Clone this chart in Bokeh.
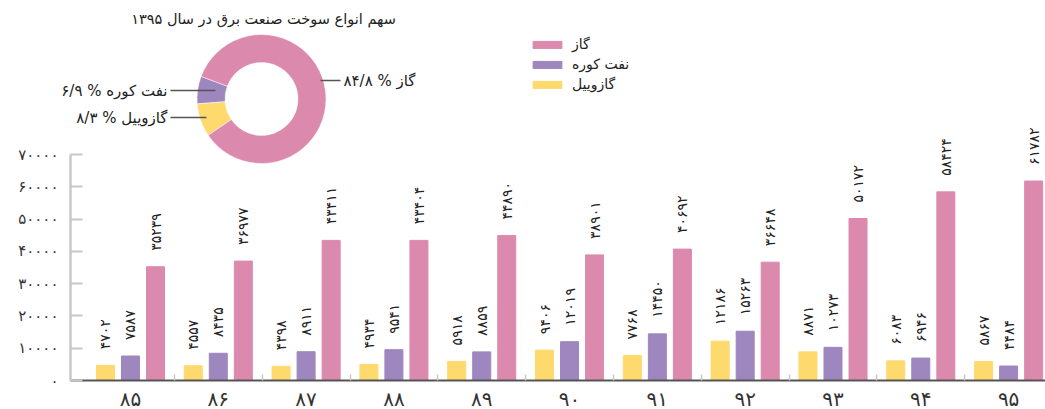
import numpy as np
from bokeh.plotting import figure
from bokeh.models import (Range1d, FixedTicker, ColumnDataSource, Legend,
                          LegendItem, Label)
from bokeh.core.properties import value
from bokeh.embed import file_html
from bokeh.resources import INLINE

# ---- data -------------------------------------------------------------
years = [85, 86, 87, 88, 89, 90, 91, 92, 93, 94, 95]
gasoil = [4702, 4557, 4398, 4934, 5918, 9406, 7768, 12186, 8871, 6083, 5867]
kerosene = [7587, 8435, 8911, 9541, 8859, 12019, 14450, 15263, 10273, 6946, 4484]
gas = [35239, 36977, 43411, 43404, 44890, 38901, 40692, 36648, 50172, 58424, 61782]

series_names = ["گاز", "نفت کوره", "گازوییل"]
share_1395 = [84.8, 6.9, 8.3]          # gas, kerosene, gasoil (percent)
y_ticks = [0, 10000, 20000, 30000, 40000, 50000, 60000, 70000]
pie_title = "سهم انواع سوخت صنعت برق در سال ۱۳۹۵"

# ---- styling ----------------------------------------------------------
FONT = "DejaVu Sans"
PINK, PURPLE, YELLOW = "#DB8AAE", "#9E86BE", "#FED96E"
TXT = "#222222"

FA = str.maketrans("0123456789.", "۰۱۲۳۴۵۶۷۸۹/")


def fa(v):
    return str(v).translate(FA)


W, H = 1045, 409
AXIS_X = 70                  # screen column of the value axis
X0 = -0.683                  # category coordinate at the value axis
X1 = 10.42                   # category coordinate at the right edge
AXIS_Y = 380                 # screen row of the value 0
Y_TOP_VAL, Y_TOP_PX = 70000, 154
u_per_px = Y_TOP_VAL / (AXIS_Y - Y_TOP_PX)
x_per_px = (X1 - X0) / (W - AXIS_X)

idx = np.arange(len(years))
p = figure(width=W, height=H, output_backend="svg", toolbar_location=None,
           x_range=Range1d(X0 - AXIS_X * x_per_px, X1),
           y_range=Range1d(-(H - AXIS_Y) * u_per_px, AXIS_Y * u_per_px),
           min_border_left=0, min_border_right=0, min_border_top=0,
           min_border_bottom=0, outline_line_color=None)
p.grid.visible = False
p.background_fill_color = None
p.border_fill_color = "white"

# pixel-like helper ranges for the donut inset
p.extra_x_ranges = {"px": Range1d(0, W)}
p.extra_y_ranges = {"px": Range1d(0, H)}

# ---- grouped bars -----------------------------------------------------
off, bw = 0.285, 0.205
src = ColumnDataSource(dict(
    x_y=idx - off, x_p=idx, x_g=idx + off,
    gasoil=gasoil, kerosene=kerosene, gas=gas,
    l_gasoil=[fa(v) for v in gasoil],
    l_kerosene=[fa(v) for v in kerosene],
    l_gas=[fa(v) for v in gas],
))
r_y = p.vbar(x="x_y", top="gasoil", width=bw, color=YELLOW, source=src)
r_p = p.vbar(x="x_p", top="kerosene", width=bw, color=PURPLE, source=src)
r_g = p.vbar(x="x_g", top="gas", width=bw, color=PINK, source=src)

for xcol, ycol, lcol in [("x_y", "gasoil", "l_gasoil"),
                         ("x_p", "kerosene", "l_kerosene"),
                         ("x_g", "gas", "l_gas")]:
    p.text(x=xcol, y=ycol, text=lcol, source=src, angle=np.pi / 2,
           text_align="left", text_baseline="middle", y_offset=-16,
           text_font=value(FONT), text_font_size="14px", text_color=TXT)

# ---- axes -------------------------------------------------------------
xa = p.xaxis[0]
xa.fixed_location = 0
xa.bounds = (X0, X1)
xa.ticker = FixedTicker(ticks=list(idx), minor_ticks=list(idx[:-1] + 0.5))
xa.major_label_overrides = {int(i): fa(y) for i, y in zip(idx, years)}
xa.major_label_text_font = FONT
xa.major_label_text_font_size = "20px"
xa.major_label_text_color = "#333333"
xa.major_label_standoff = 0
xa.major_tick_line_color = None
xa.minor_tick_in = 6
xa.minor_tick_out = 0
xa.minor_tick_line_color = "#c8c8c8"
xa.minor_tick_line_width = 1.5
xa.axis_line_color = "#555555"
xa.axis_line_width = 2

ya = p.yaxis[0]
ya.fixed_location = X0
ya.ticker = FixedTicker(ticks=y_ticks)
ya.bounds = (0, 70000)
ya.major_label_overrides = {t: fa(t) for t in y_ticks}
ya.major_label_text_font = FONT
ya.major_label_text_font_size = "15px"
ya.major_label_text_color = "#333333"
ya.major_label_standoff = 12
ya.major_tick_in = 12
ya.major_tick_out = 0
ya.major_tick_line_color = "#c8c8c8"
ya.major_tick_line_width = 2
ya.minor_tick_line_color = None
ya.axis_line_color = "#c8c8c8"
ya.axis_line_width = 2.5

# ---- legend -----------------------------------------------------------
legend = Legend(items=[LegendItem(label=series_names[0], renderers=[r_g]),
                       LegendItem(label=series_names[1], renderers=[r_p]),
                       LegendItem(label=series_names[2], renderers=[r_y])],
                location=(529, 315), glyph_width=36, glyph_height=9,
                label_standoff=7, padding=0, margin=0, spacing=0,
                label_height=20, border_line_color=None,
                background_fill_alpha=0, label_text_font=FONT,
                label_text_font_size="14px", label_text_color=TXT)
p.add_layout(legend)

# ---- donut inset (share of each fuel in 1395) -------------------------
cx, cy, r_out, r_in = 261, H - 98.5, 64.5, 36.5
order = [1, 2, 0]                      # kerosene, gasoil, gas (anticlockwise)
start0 = np.deg2rad(159.5)
fr = np.array([share_1395[i] for i in order]) / sum(share_1395)
ends = start0 + 2 * np.pi * np.cumsum(fr)
starts = np.concatenate([[start0], ends[:-1]])
pie = ColumnDataSource(dict(
    x=[cx] * 3, y=[cy] * 3, start=starts, end=ends,
    color=[[PINK, PURPLE, YELLOW][i] for i in order]))
p.annular_wedge(x="x", y="y", inner_radius=r_in, outer_radius=r_out,
                inner_radius_units="screen", outer_radius_units="screen",
                start_angle="start", end_angle="end", color="color",
                line_color="white", line_width=0.5, source=pie,
                x_range_name="px", y_range_name="px")

labels = [fa(f"{v:.1f}") + " % " + n for v, n in zip(share_1395, series_names)]
ly = [H - 80, H - 90, H - 117]
# leader lines
p.segment(x0=[320, 170, 170], y0=ly, x1=[340, 215, 206], y1=ly,
          line_color="#555555", line_width=1.5,
          x_range_name="px", y_range_name="px")

# slice labels and inset title
for txt, x, y, align in [(labels[0], 343, ly[0], "left"),
                         (labels[1], 167, ly[1], "right"),
                         (labels[2], 167, ly[2], "right")]:
    p.add_layout(Label(x=x, y=y, text=txt, text_align=align,
                       text_baseline="middle", text_font=FONT,
                       text_font_size="15px", text_color=TXT,
                       x_range_name="px", y_range_name="px"))
p.add_layout(Label(x=263, y=H - 18, text=pie_title, text_align="center",
                   text_baseline="middle", text_font=FONT,
                   text_font_size="14.5px", text_color=TXT,
                   x_range_name="px", y_range_name="px"))

open("out.html", "w").write(file_html(p, INLINE))
